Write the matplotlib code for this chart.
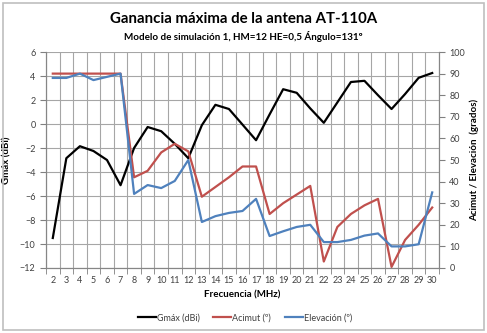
import numpy as np
import matplotlib.pyplot as plt
from matplotlib.patches import Rectangle

plt.rcParams['font.family'] = ['Lato', 'DejaVu Sans']

# Data
freq = list(range(2, 31))
gmax = [-9.5, -2.85, -1.85, -2.25, -3.0, -5.1, -2.0, -0.25, -0.6, -1.65, -2.85,
        -0.1, 1.6, 1.25, -0.05, -1.35, 0.8, 2.9, 2.6, 1.3, 0.1, 1.8, 3.5, 3.6,
        2.4, 1.25, 2.5, 3.85, 4.25]
acimut = [90, 90, 90, 90, 90, 90, 42, 45, 53.5, 57.5, 54, 33, 37.5, 42, 47, 47,
          25, 30, 34, 38, 3, 19, 25, 29, 32, 0.5, 13, 20, 28]
elevacion = [88, 88, 90, 87, 88.5, 90, 34.3, 38.4, 37, 40.3, 50, 21.3, 24, 25.5,
             26.4, 32, 14.8, 17, 19, 20, 12, 12, 13, 15, 16, 10, 10, 11, 35]

tick_col = '#404040'
fig = plt.figure(figsize=(4.87, 3.33), dpi=100)
fig.patches.append(Rectangle((0.006, 0.009), 0.988, 0.982, transform=fig.transFigure,
                             fill=False, edgecolor='#bfbfbf', linewidth=1.2))

ax1 = fig.add_axes([0.0945, 0.1952, 0.8069, 0.6486])
ax2 = ax1.twinx()

l1, = ax1.plot(freq, gmax, color='black', linewidth=1.6, label='Gmáx (dBi)')
l2, = ax2.plot(freq, acimut, color='#C0504D', linewidth=1.6, label='Acimut (º)')
l3, = ax2.plot(freq, elevacion, color='#4F81BD', linewidth=1.6, label='Elevación (º)')

ax1.set_xlim(1.5, 30.5)
ax1.set_ylim(-12, 6)
ax2.set_ylim(0, 100)
ax1.set_yticks(np.arange(-12, 7, 2))
ax2.set_yticks(np.arange(0, 101, 10))
ax1.set_xticks(freq)
ax1.set_xticks(np.arange(1.5, 31, 1), minor=True)
ax1.tick_params(axis='x', which='major', length=0, labelsize=6.5, colors=tick_col, pad=6)
ax1.tick_params(axis='x', which='minor', length=4, color='#808080', direction='out')
ax1.tick_params(axis='y', length=4, color='#808080', labelsize=6.5, labelcolor=tick_col)
ax2.tick_params(axis='y', length=4, color='#808080', labelsize=6.5, labelcolor=tick_col)

ax1.grid(True, which='minor', axis='x', color='#a6a6a6', linewidth=0.8)
ax1.grid(True, which='major', axis='y', color='#a6a6a6', linewidth=0.8)
ax1.set_axisbelow(True)
for ax in (ax1, ax2):
    for s in ax.spines.values():
        s.set_color('#868686')
    ax.spines['top'].set_visible(False)

ax1.set_xlabel('Frecuencia (MHz)', fontsize=7, fontweight='bold', labelpad=4)
ax1.set_ylabel('Gmáx (dBi)', fontsize=7, fontweight='bold', labelpad=6)
ax2.set_ylabel('Acimut / Elevación  (grados)', fontsize=7, fontweight='bold', labelpad=3)

fig.text(0.5, 0.943, 'Ganancia máxima de la antena AT-110A', ha='center', va='center',
         fontsize=10.8, fontweight='bold')
fig.text(0.5, 0.891, 'Modelo de simulación 1, HM=12 HE=0,5 Ángulo=131º', ha='center',
         va='center', fontsize=7.1, fontweight='bold')

fig.legend(handles=[l1, l2, l3], loc='center', bbox_to_anchor=(0.503, 0.045), ncol=3,
           frameon=False, fontsize=6.5, handlelength=2.0, handletextpad=0.1,
           columnspacing=1.5, labelcolor=tick_col)

fig.savefig('out.png', dpi=100)
